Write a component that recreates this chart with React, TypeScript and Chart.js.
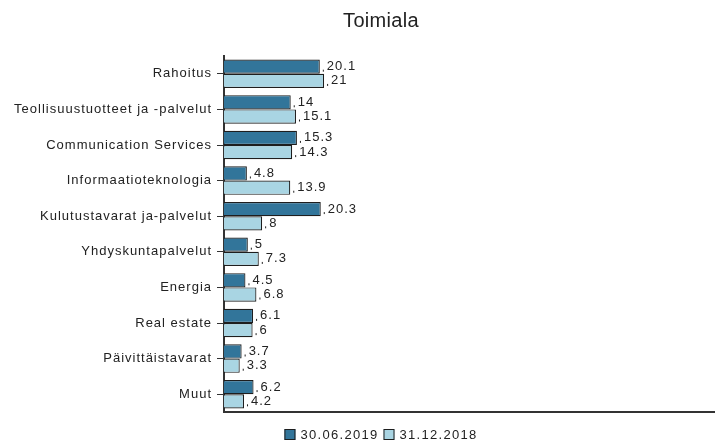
import React, { useEffect, useRef } from "react";
import { Chart, registerables } from "chart.js";

Chart.register(...registerables);

const chartTitle = "Toimiala";
const categories = [
  "Rahoitus",
  "Teollisuustuotteet ja -palvelut",
  "Communication Services",
  "Informaatioteknologia",
  "Kulutustavarat ja-palvelut",
  "Yhdyskuntapalvelut",
  "Energia",
  "Real estate",
  "Päivittäistavarat",
  "Muut",
];
const seriesNames = ["30.06.2019", "31.12.2018"];
const values2019 = [20.1, 14, 15.3, 4.8, 20.3, 5, 4.5, 6.1, 3.7, 6.2];
const values2018 = [21, 15.1, 14.3, 13.9, 8, 7.3, 6.8, 6, 3.3, 4.2];
const seriesColors = ["#32759a", "#a9d5e3"];

const FONT = "'Liberation Sans', Arial, sans-serif";
const TEXT = "#222222";
const LINE = "#333333";
const CENTER_X = 381;

const extrasPlugin = {
  id: "extras",
  beforeLayout(chart: any) {
    chart.ctx.letterSpacing = "1px";
  },
  beforeDraw(chart: any) {
    const ctx = chart.ctx;
    ctx.save();
    ctx.fillStyle = "#ffffff";
    ctx.fillRect(0, 0, chart.width, chart.height);
    ctx.restore();
    ctx.letterSpacing = "1px";
  },
  afterDatasetsDraw(chart: any) {
    const ctx = chart.ctx;
    ctx.save();
    ctx.letterSpacing = "1px";
    ctx.font = `13px ${FONT}`;
    ctx.fillStyle = TEXT;
    ctx.textAlign = "left";
    ctx.textBaseline = "middle";
    chart.data.datasets.forEach((ds: any, di: number) => {
      const meta = chart.getDatasetMeta(di);
      meta.data.forEach((el: any, i: number) => {
        const v = ds.data[i];
        ctx.fillRect(el.x + 3, el.y + 3, 1, 2);
        ctx.fillText(String(v), el.x + 7, el.y);
      });
    });
    ctx.restore();
  },
  afterDraw(chart: any) {
    const ctx = chart.ctx;
    ctx.save();
    // title
    ctx.letterSpacing = "0.3px";
    ctx.font = `20px ${FONT}`;
    ctx.fillStyle = TEXT;
    ctx.textAlign = "center";
    ctx.textBaseline = "alphabetic";
    ctx.fillText(chartTitle, CENTER_X, 27);
    // legend
    ctx.letterSpacing = "1.3px";
    ctx.font = `13px ${FONT}`;
    ctx.textAlign = "left";
    const box = 11;
    const gapText = 5;
    const gapItem = 5;
    const widths = seriesNames.map((n) => ctx.measureText(n).width);
    let total = 0;
    widths.forEach((w, i) => {
      total += box + gapText + w + (i < widths.length - 1 ? gapItem : 0);
    });
    let x = CENTER_X - total / 2;
    const by = 429;
    seriesNames.forEach((n, i) => {
      ctx.fillStyle = seriesColors[i];
      ctx.fillRect(x, by, box, box);
      ctx.strokeStyle = "#1e1e1e";
      ctx.lineWidth = 1;
      ctx.strokeRect(x + 0.5, by + 0.5, box - 1, box - 1);
      ctx.fillStyle = TEXT;
      ctx.fillText(n, x + box + gapText, 438.5);
      x += box + gapText + widths[i] + gapItem;
    });
    ctx.restore();
  },
};

export default function App() {
  const ref = useRef<HTMLCanvasElement>(null);
  useEffect(() => {
    const canvas = ref.current!;
    const chart = new Chart(canvas, {
      type: "bar",
      data: {
        labels: categories,
        datasets: [
          {
            label: seriesNames[0],
            data: values2019,
            backgroundColor: seriesColors[0],
            borderColor: "#1e1e1e",
            borderWidth: 1.2,
            categoryPercentage: 0.8,
            barPercentage: 1,
          },
          {
            label: seriesNames[1],
            data: values2018,
            backgroundColor: seriesColors[1],
            borderColor: "#1e1e1e",
            borderWidth: 1.2,
            categoryPercentage: 0.8,
            barPercentage: 1,
          },
        ],
      },
      options: {
        indexAxis: "y",
        responsive: false,
        animation: false,
        devicePixelRatio: 1,
        layout: { padding: { top: 56, bottom: 32, left: 0, right: 0 } },
        plugins: {
          legend: { display: false },
          title: { display: false },
          tooltip: { enabled: false },
        },
        scales: {
          x: {
            min: 0,
            max: 103,
            ticks: { display: false },
            grid: { display: false },
            border: { display: true, color: LINE, width: 2 },
            afterFit(scale: any) {
              scale.height = 0;
            },
          },
          y: {
            grid: {
              display: true,
              offset: false,
              drawOnChartArea: false,
              drawTicks: true,
              tickLength: 7,
              color: LINE,
              lineWidth: 1,
            },
            border: { display: true, color: LINE, width: 2 },
            ticks: {
              padding: 5,
              color: TEXT,
              font: { family: FONT, size: 13 },
            },
            afterFit(scale: any) {
              scale.width = 224;
            },
          },
        },
      } as any,
      plugins: [extrasPlugin],
    });
    return () => chart.destroy();
  }, []);
  return (
    <div style={{ position: "absolute", left: 0, top: 0, width: 715, height: 444, background: "#fff" }}>
      <canvas ref={ref} width={715} height={444} style={{ display: "block" }} />
    </div>
  );
}
